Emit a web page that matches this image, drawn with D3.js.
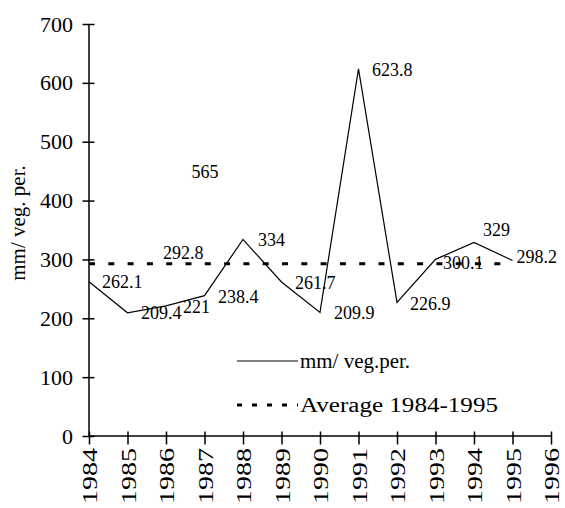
<!DOCTYPE html>
<html>
<head>
<meta charset="utf-8">
<script src="https://cdn.jsdelivr.net/npm/d3@7"></script>
<style>
  body { margin: 0; background: #fff; }
  svg { display: block; font-family: "Liberation Serif", "Times New Roman", serif; }
</style>
</head>
<body>
<div id="chart"></div>
<script>
// dades
const years = [1984, 1985, 1986, 1987, 1988, 1989, 1990, 1991, 1992, 1993, 1994, 1995];
const values = [262.1, 209.4, 221, 238.4, 334, 261.7, 209.9, 623.8, 226.9, 300.1, 329, 298.2];
const average = 292.8;
const strayLabel = 565;
const xTicks = [1984, 1985, 1986, 1987, 1988, 1989, 1990, 1991, 1992, 1993, 1994, 1995, 1996];
const yTicks = [0, 100, 200, 300, 400, 500, 600, 700];
const seriesNames = ["mm/ veg.per.", "Average 1984-1995"];

// posicio etiquetes (dx, dy respecte el punt)
const labelOffsets = [[13, 6.5], [13.5, 6.5], [17, 7], [13.5, 7.5], [15, 7], [13.5, 7],
                      [14, 7], [13.5, 7.5], [13, 8], [7.5, 10], [9, -6], [4, 3]];

const width = 565, height = 508;

const svg = d3.select("#chart").append("svg")
    .attr("width", width)
    .attr("height", height);

// escales
const x = d3.scaleLinear().domain([1984, 1996]).range([89, 551]);
const y = d3.scaleLinear().domain([0, 700]).range([436, 24]);

// eix Y
const gy = svg.append("g")
    .attr("transform", `translate(${x(1984)},0)`)
    .call(d3.axisLeft(y).tickValues(yTicks).tickSize(6.5).tickPadding(10));
gy.select(".domain").attr("d", `M0,${y(700)}V${y(0)}`).attr("stroke-width", 1.5);
gy.selectAll(".tick line").attr("x1", -6.5).attr("x2", 5.5).attr("stroke-width", 1.5);
gy.selectAll(".tick text")
    .attr("x", -16)
    .style("font-size", "22px")
    .style("font-family", "Liberation Serif");

// eix X
const gx = svg.append("g")
    .attr("transform", `translate(0,${y(0)})`)
    .call(d3.axisBottom(x).tickValues(xTicks).tickFormat(d3.format("d")));
gx.select(".domain").attr("d", `M${x(1984)},0H${x(1996)}`).attr("stroke-width", 1.5);
gx.selectAll(".tick line").attr("y1", -4.5).attr("y2", 8.5).attr("stroke-width", 1.5);
gx.selectAll(".tick text")
    .attr("transform", "rotate(-90)")
    .attr("x", -12)
    .attr("y", 0)
    .attr("dy", "0.35em")
    .attr("text-anchor", "end")
    .attr("textLength", 56)
    .attr("lengthAdjust", "spacingAndGlyphs")
    .style("font-size", "22px")
    .style("font-family", "Liberation Serif");

// titol eix Y
svg.append("text")
    .attr("transform", "translate(18,223) rotate(-90)")
    .attr("text-anchor", "middle")
    .attr("dy", "0.35em")
    .style("font-size", "21px")
    .text("mm/ veg. per.");

// linia mitjana
svg.append("line")
    .attr("x1", x(years[0]))
    .attr("x2", x(years[years.length - 1]))
    .attr("y1", y(average))
    .attr("y2", y(average))
    .attr("stroke", "#000")
    .attr("stroke-width", 3)
    .attr("stroke-dasharray", "6,13.3");

// serie
const line = d3.line()
    .x((d, i) => x(years[i]))
    .y(d => y(d));

svg.append("path")
    .datum(values)
    .attr("fill", "none")
    .attr("stroke", "#000")
    .attr("stroke-width", 1.2)
    .attr("d", line);

// etiquetes valors
svg.selectAll("text.value")
    .data(values)
    .enter()
    .append("text")
    .attr("class", "value")
    .attr("x", (d, i) => x(years[i]) + labelOffsets[i][0])
    .attr("y", (d, i) => y(d) + labelOffsets[i][1])
    .style("font-size", "18px")
    .text(d => d);

// etiqueta mitjana
svg.append("text")
    .attr("x", x(1986) - 3)
    .attr("y", y(average) - 5)
    .style("font-size", "18px")
    .text(average);

svg.append("text")
    .attr("x", x(1987) - 13)
    .attr("y", 178)
    .style("font-size", "18px")
    .text(strayLabel);

// llegenda
const legend = svg.append("g");
legend.append("line")
    .attr("x1", 237).attr("x2", 298)
    .attr("y1", 361).attr("y2", 361)
    .attr("stroke", "#000")
    .attr("stroke-width", 1.2);
legend.append("text")
    .attr("x", 300).attr("y", 361).attr("dy", "0.35em")
    .attr("textLength", 110)
    .attr("lengthAdjust", "spacingAndGlyphs")
    .style("font-size", "20px")
    .text(seriesNames[0]);
legend.append("line")
    .attr("x1", 237).attr("x2", 298)
    .attr("y1", 405).attr("y2", 405)
    .attr("stroke", "#000")
    .attr("stroke-width", 3)
    .attr("stroke-dasharray", "5,10");
legend.append("text")
    .attr("x", 300).attr("y", 405).attr("dy", "0.35em")
    .attr("textLength", 198)
    .attr("lengthAdjust", "spacingAndGlyphs")
    .style("font-size", "20px")
    .text(seriesNames[1]);
</script>
</body>
</html>
